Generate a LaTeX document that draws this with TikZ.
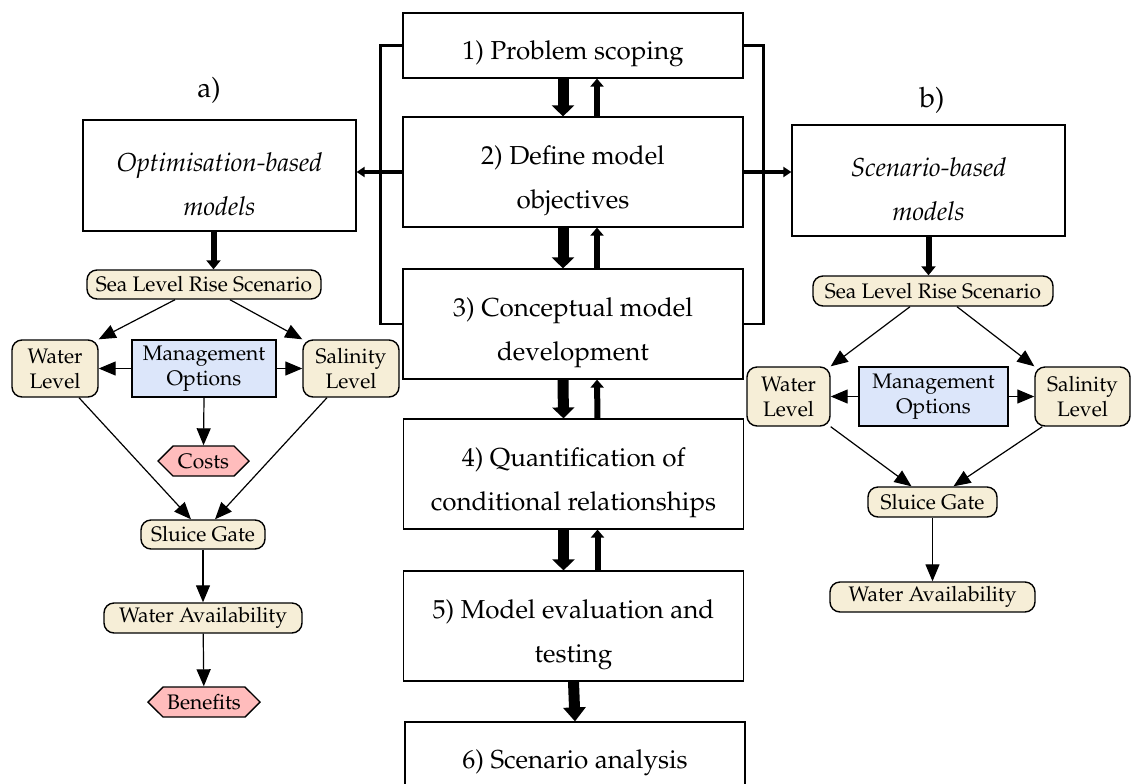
\documentclass[tikz,border=0pt]{standalone}
\usepackage[T1]{fontenc}
\usepackage{mathpazo}
\usetikzlibrary{arrows.meta,shapes.symbols}
\definecolor{cream}{HTML}{F6EED7}
\definecolor{paleblue}{HTML}{DCE6FA}
\definecolor{salmon}{HTML}{FFBCBC}
\newcommand{\toppad}{\rule{0pt}{17.7pt}}

\begin{document}
\begin{tikzpicture}[x=0.5pt,y=-0.5pt,
stage/.style={draw,line width=0.6pt,minimum width=170pt,inner sep=0pt,align=center,
 font=\fontsize{13}{22}\selectfont},
model/.style={stage,minimum width=136.5pt,minimum height=55.5pt,font=\fontsize{13}{22}\selectfont\itshape},
var/.style={draw,line width=0.7pt,fill=cream,rounded corners=5pt,inner sep=0pt,align=center,
 font=\fontsize{10.5}{12.5}\selectfont},
mgmt/.style={draw,line width=1pt,fill=paleblue,inner sep=0pt,align=center,font=\fontsize{10.5}{12.5}\selectfont},
value/.style={draw,line width=0.7pt,fill=salmon,shape=signal,signal to=east and west,inner sep=0pt,
 minimum height=15pt,font=\fontsize{10.5}{12.5}\selectfont},
link/.style={line width=0.6pt,-{Triangle[length=8.5pt,width=7pt]}},
fwdarrow/.style={line width=5.5pt,-{Triangle[length=5.5pt,width=11pt]}},
backarrow/.style={line width=3pt,-{Triangle[length=4pt,width=6.5pt]}},
bracket/.style={line width=1.2pt},
sidearrow/.style={line width=2pt,-{Triangle[length=4pt,width=5pt]}}]
\clip (0,0) rectangle (1131,783);
% modelling steps
\node[stage,minimum height=32.5pt] (s1) at (573,45.5) {\toppad 1) Problem scoping};
\node[stage,minimum height=55pt] (s2) at (573,172) {\toppad 2) Define model\\objectives};
\node[stage,minimum height=55pt] (s3) at (573,324) {\toppad 3) Conceptual model\\development};
\node[stage,minimum height=55pt] (s4) at (573.5,474) {\toppad 4) Quantification of\\conditional relationships};
\node[stage,minimum height=55pt] (s5) at (573.5,626) {\toppad 5) Model evaluation and\\testing};
\node[stage,minimum height=32.5pt] (s6) at (575,754.5) {\toppad 6) Scenario analysis};
\foreach \a/\b in {s1/s2,s2/s3,s3/s4,s4/s5}{
\draw[fwdarrow] ([xshift=-5pt]\a.south) -- ([xshift=-5pt]\b.north);
\draw[backarrow] ([xshift=12pt]\b.north) -- ([xshift=12pt]\a.south);
}
\draw[fwdarrow,-{Triangle[length=7pt,width=11pt]}] (s5.south) -- (s6.north);
% model types
\node (la) at (209,90) {\fontsize{14}{16}\selectfont a)};
\node (lb) at (932,100) {\fontsize{14}{16}\selectfont b)};
\node[model] (opt) at (219.5,175.5) {\toppad Optimisation-based\\models};
\node[model] (scn) at (928.5,180.5) {\toppad Scenario-based\\models};
\draw[bracket] (s1.west) -- ++(-11pt,0) |- (s3.west);
\draw[bracket] (s1.east) -- ++(10pt,0) |- (s3.east);
\draw[sidearrow] (s2.west) -- (s2.west -| opt.east);
\draw[sidearrow] (s2.east) -- (s2.east -| scn.west);
% a) optimisation network
\node[var,minimum width=117pt,minimum height=14.5pt] (slra) at (204,284.5) {Sea Level Rise Scenario};
\node[var,minimum width=43pt,minimum height=28.5pt] (wla) at (55,368.5) {Water\\Level};
\node[mgmt,minimum width=72pt,minimum height=28.5pt] (moa) at (204,368.5) {Management\\Options};
\node[var,minimum width=48pt,minimum height=28.5pt] (sla) at (351,368.5) {Salinity\\Level};
\node[value,minimum width=45.5pt] (cost) at (203.5,461) {Costs};
\node[var,minimum width=62pt,minimum height=14.5pt] (sga) at (203,534.5) {Sluice Gate};
\node[var,minimum width=99pt,minimum height=15pt] (waa) at (203,618) {Water Availability};
\node[value,minimum width=56pt] (ben) at (204,702) {Benefits};
\draw[fwdarrow,line width=3pt,-{Triangle[length=4.5pt,width=7pt]}] ([xshift=-3pt]opt.south) -- ([xshift=-3pt]opt.south |- slra.north);
\draw[link] ([xshift=-14.5pt]slra.south) -- (wla.north east);
\draw[link] ([xshift=13pt]slra.south) -- (sla.north west);
\draw[link] (moa.west) -- (wla.east);
\draw[link] (moa.east) -- (sla.west);
\draw[link] (moa.south) -- (cost.north);
\draw[link] ([xshift=12pt]wla.south) -- ([xshift=-6pt]sga.north);
\draw[link] ([xshift=-12pt]sla.south) -- ([xshift=6pt]sga.north);
\draw[link] (sga) -- (waa);
\draw[link] (waa) -- (ben);
% b) scenario network
\node[var,minimum width=120pt,minimum height=15pt] (slrb) at (933,291) {Sea Level Rise Scenario};
\node[var,minimum width=41.5pt,minimum height=29.5pt] (wlb) at (788.5,396.5) {Water\\Level};
\node[mgmt,minimum width=74.5pt,minimum height=29.5pt] (mob) at (933.5,396.5) {Management\\Options};
\node[var,minimum width=47.5pt,minimum height=29.5pt] (slb) at (1082.5,396.5) {Salinity\\Level};
\node[var,minimum width=64.5pt,minimum height=15pt] (sgb) at (932.5,502) {Sluice Gate};
\node[var,minimum width=102.5pt,minimum height=15pt] (wab) at (932.5,597) {Water Availability};
\draw[fwdarrow,line width=3pt,-{Triangle[length=4.5pt,width=7pt]}] (scn.south) -- (scn.south |- slrb.north);
\draw[link] ([xshift=-11.5pt]slrb.south) -- (wlb.north east);
\draw[link] ([xshift=12pt]slrb.south) -- (slb.north west);
\draw[link] (mob.west) -- (wlb.east);
\draw[link] (mob.east) -- (slb.west);
\draw[link] (wlb.south east) -- ([xshift=-10.5pt]sgb.north);
\draw[link] ([xshift=4pt]slb.south west) -- ([xshift=10.5pt]sgb.north);
\draw[link] (sgb) -- (wab);
\end{tikzpicture}
\end{document}
